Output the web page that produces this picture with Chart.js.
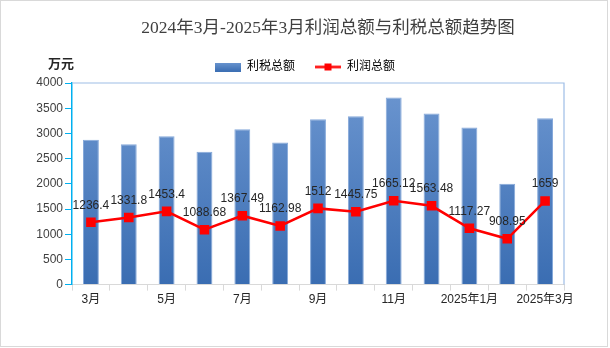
<!DOCTYPE html>
<html>
<head>
<meta charset="utf-8">
<script src="https://cdn.jsdelivr.net/npm/chart.js@4.4.1/dist/chart.umd.min.js"></script>
<style>
  html, body { margin: 0; padding: 0; background: #fff; }
  #wrap { width: 610px; height: 348px; position: relative; }
</style>
</head>
<body>
<div id="wrap"><canvas id="chart" width="610" height="348"></canvas></div>
<script>
// categories (months)
const months = ["3月", "4月", "5月", "6月", "7月", "8月", "9月", "10月", "11月", "12月", "2025年1月", "2025年2月", "2025年3月"];
// 利税总额 (bars)
const taxProfit = [2875, 2785, 2945, 2635, 3080, 2820, 3280, 3340, 3710, 3395, 3115, 2000, 3300];
// 利润总额 (line), from the data labels
const profit = [1236.4, 1331.8, 1453.4, 1088.68, 1367.49, 1162.98, 1512, 1445.75, 1665.12, 1563.48, 1117.27, 908.95, 1659];
const yTicks = [0, 500, 1000, 1500, 2000, 2500, 3000, 3500, 4000];

const fontSans = '"Liberation Sans", "Noto Sans CJK SC", sans-serif';
const fontTitle = '"Liberation Serif", "Noto Sans CJK SC", serif';

// legend icons drawn on little canvases
function barIcon() {
  const c = document.createElement('canvas');
  c.width = 26; c.height = 9;
  const g = c.getContext('2d');
  const gr = g.createLinearGradient(0, 0, 0, 9);
  gr.addColorStop(0, '#6a95cf');
  gr.addColorStop(1, '#3b6eb3');
  g.fillStyle = gr;
  g.fillRect(0, 0, 26, 9);
  return c;
}
function lineIcon() {
  const c = document.createElement('canvas');
  c.width = 26; c.height = 9;
  const g = c.getContext('2d');
  g.strokeStyle = '#ff0000';
  g.lineWidth = 2.5;
  g.beginPath(); g.moveTo(0, 4.5); g.lineTo(26, 4.5); g.stroke();
  g.fillStyle = '#ff0000';
  g.fillRect(9.5, 1, 7, 7);
  return c;
}
const icons = [barIcon(), lineIcon()];

// frame, title, unit label, plot border and point labels
const decor = {
  id: 'decor',
  beforeDraw(chart) {
    const ctx = chart.ctx;
    ctx.save();
    ctx.strokeStyle = '#d9d9d9';
    ctx.lineWidth = 1;
    ctx.strokeRect(0.5, 0.5, 607, 346);
    ctx.restore();
  },
  afterDraw(chart) {
    const ctx = chart.ctx;
    const a = chart.chartArea;
    ctx.save();
    ctx.fillStyle = '#404040';
    ctx.font = '17.5px ' + fontTitle;
    ctx.textAlign = 'center';
    ctx.textBaseline = 'middle';
    ctx.fillText('2024年3月-2025年3月利润总额与利税总额趋势图', 328, 28);
    ctx.fillStyle = '#262626';
    ctx.font = 'bold 13px ' + fontSans;
    ctx.fillText('万元', 61, 64);
    // top and right edges of the plot
    ctx.strokeStyle = '#9dbde6';
    ctx.lineWidth = 1.2;
    ctx.beginPath();
    ctx.moveTo(a.left, a.top);
    ctx.lineTo(a.right, a.top);
    ctx.lineTo(a.right, a.bottom);
    ctx.stroke();
    ctx.restore();
  },
  afterDatasetsDraw(chart) {
    const ctx = chart.ctx;
    const meta = chart.getDatasetMeta(1);
    ctx.save();
    ctx.fillStyle = '#262626';
    ctx.font = '12px ' + fontSans;
    ctx.textAlign = 'center';
    ctx.textBaseline = 'middle';
    meta.data.forEach((p, i) => {
      ctx.fillText(String(profit[i]), p.x, p.y - 17);
    });
    ctx.restore();
  }
};

new Chart(document.getElementById('chart'), {
  data: {
    labels: months,
    datasets: [
      {
        type: 'bar',
        label: '利税总额',
        data: taxProfit,
        backgroundColor: (ctx) => {
          const a = ctx.chart.chartArea;
          if (!a) return '#4f7fc0';
          const g = ctx.chart.ctx.createLinearGradient(0, a.top, 0, a.bottom);
          g.addColorStop(0, '#6c96d0');
          g.addColorStop(1, '#3a6db2');
          return g;
        },
        borderColor: '#86a9da',
        borderWidth: 1,
        barPercentage: 0.42,
        categoryPercentage: 1,
        order: 2
      },
      {
        type: 'line',
        label: '利润总额',
        data: profit,
        borderColor: '#ff0000',
        backgroundColor: '#ff0000',
        borderWidth: 2.5,
        pointStyle: 'rect',
        pointRadius: 5,
        tension: 0,
        order: 1
      }
    ]
  },
  options: {
    responsive: false,
    animation: false,
    layout: { padding: { top: 41, left: 0, right: 0, bottom: 39 } },
    plugins: {
      title: { display: false },
      tooltip: { enabled: false },
      legend: {
        display: true,
        position: 'top',
        labels: {
          usePointStyle: true,
          pointStyleWidth: 26,
          padding: 20,
          color: '#404040',
          font: { size: 12, family: fontSans },
          generateLabels: (chart) => chart.data.datasets.map((d, i) => ({
            text: d.label,
            pointStyle: icons[i],
            fillStyle: 'transparent',
            strokeStyle: 'transparent',
            lineWidth: 0,
            datasetIndex: i
          }))
        }
      }
    },
    scales: {
      x: {
        offset: true,
        grid: { display: true, offset: true, drawOnChartArea: false, tickLength: 6, color: '#d9d9d9' },
        border: { color: '#d9d9d9', width: 1 },
        ticks: {
          autoSkip: false,
          maxRotation: 0,
          padding: 2,
          color: '#262626',
          font: { size: 12, family: fontSans },
          callback: (v, i) => (i % 2 === 0 ? months[i] : '')
        }
      },
      y: {
        min: 0,
        max: 4000,
        afterFit: (s) => { s.width = 72; },
        afterBuildTicks: (s) => { s.ticks = yTicks.map((v) => ({ value: v })); },
        grid: { display: true, drawOnChartArea: false, tickLength: 7, color: '#00b0f0' },
        border: { color: '#00b0f0', width: 1.5 },
        ticks: {
          padding: 2,
          color: '#404040',
          font: { size: 12, family: fontSans },
          callback: (v) => String(v)
        }
      },
      y2: {
        position: 'right',
        display: true,
        afterFit: (s) => { s.width = 46; },
        grid: { display: false },
        border: { display: false },
        ticks: { display: false }
      }
    }
  },
  plugins: [decor]
});
</script>
</body>
</html>
